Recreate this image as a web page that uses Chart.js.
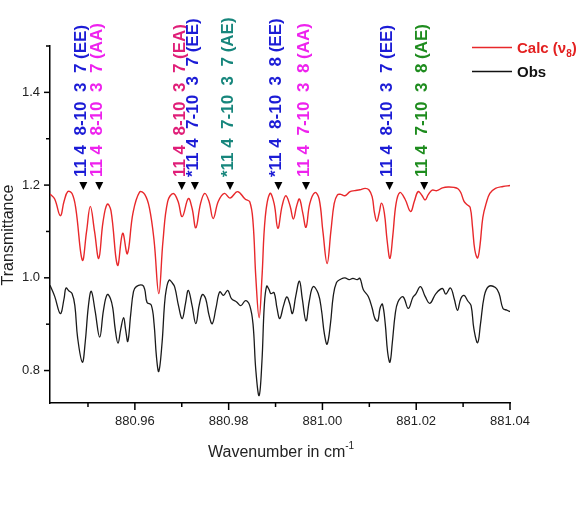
<!DOCTYPE html>
<html><head><meta charset="utf-8">
<script src="https://cdn.jsdelivr.net/npm/chart.js@4.4.1/dist/chart.umd.min.js"></script>
<style>html,body{margin:0;padding:0;background:#fff;}</style>
</head><body>
<canvas id="c" width="580" height="517" style="width:580px;height:517px;display:block"></canvas>
<script>
const calcWavenumber = [880.9419, 880.9429, 880.9441, 880.9449, 880.9457, 880.9466, 880.9474, 880.9488, 880.9497, 880.9505, 880.9514, 880.9523, 880.9532, 880.9541, 880.9549, 880.9563, 880.9574, 880.9584, 880.9596, 880.9610, 880.9621, 880.9631, 880.9641, 880.9651, 880.9660, 880.9670, 880.9682, 880.9692, 880.9701, 880.9714, 880.9722, 880.9730, 880.9740, 880.9749, 880.9758, 880.9767, 880.9778, 880.9791, 880.9803, 880.9819, 880.9835, 880.9845, 880.9852, 880.9858, 880.9865, 880.9871, 880.9878, 880.9888, 880.9897, 880.9905, 880.9914, 880.9922, 880.9931, 880.9938, 880.9945, 880.9951, 880.9958, 880.9965, 880.9973, 880.9984, 880.9993, 881.0001, 881.0010, 881.0018, 881.0025, 881.0032, 881.0039, 881.0048, 881.0059, 881.0069, 881.0080, 881.0091, 881.0099, 881.0106, 881.0111, 881.0116, 881.0121, 881.0126, 881.0132, 881.0138, 881.0144, 881.0150, 881.0157, 881.0165, 881.0176, 881.0188, 881.0196, 881.0204, 881.0212, 881.0219, 881.0226, 881.0234, 881.0244, 881.0256, 881.0268, 881.0281, 881.0289, 881.0295, 881.0302, 881.0308, 881.0315, 881.0320, 881.0325, 881.0331, 881.0336, 881.0342, 881.0349, 881.0357, 881.0369, 881.0385, 881.0400];
const calcTransmittance = [1.181, 1.170, 1.134, 1.165, 1.186, 1.182, 1.150, 1.038, 1.100, 1.154, 1.100, 1.042, 1.120, 1.159, 1.145, 1.027, 1.096, 1.052, 1.140, 1.185, 1.180, 1.151, 1.080, 0.966, 1.080, 1.165, 1.182, 1.165, 1.132, 1.171, 1.150, 1.108, 1.160, 1.182, 1.165, 1.128, 1.165, 1.182, 1.172, 1.186, 1.170, 1.164, 1.120, 1.000, 0.914, 1.000, 1.130, 1.182, 1.160, 1.107, 1.155, 1.177, 1.155, 1.127, 1.155, 1.170, 1.140, 1.109, 1.160, 1.184, 1.170, 1.100, 1.031, 1.100, 1.160, 1.179, 1.180, 1.177, 1.186, 1.188, 1.190, 1.193, 1.190, 1.175, 1.140, 1.122, 1.140, 1.161, 1.140, 1.080, 1.042, 1.090, 1.160, 1.184, 1.170, 1.143, 1.165, 1.186, 1.178, 1.168, 1.180, 1.189, 1.188, 1.194, 1.196, 1.195, 1.192, 1.184, 1.165, 1.158, 1.152, 1.110, 1.060, 1.043, 1.070, 1.130, 1.160, 1.182, 1.193, 1.197, 1.199];
const obsWavenumber = [880.9419, 880.9429, 880.9441, 880.9449, 880.9453, 880.9459, 880.9466, 880.9472, 880.9478, 880.9488, 880.9494, 880.9501, 880.9507, 880.9515, 880.9525, 880.9533, 880.9541, 880.9548, 880.9553, 880.9558, 880.9564, 880.9570, 880.9576, 880.9580, 880.9585, 880.9591, 880.9597, 880.9603, 880.9616, 880.9621, 880.9626, 880.9635, 880.9641, 880.9646, 880.9651, 880.9658, 880.9663, 880.9667, 880.9673, 880.9679, 880.9685, 880.9693, 880.9701, 880.9708, 880.9714, 880.9722, 880.9730, 880.9737, 880.9744, 880.9751, 880.9758, 880.9765, 880.9773, 880.9781, 880.9789, 880.9798, 880.9806, 880.9817, 880.9826, 880.9836, 880.9845, 880.9852, 880.9858, 880.9865, 880.9871, 880.9876, 880.9881, 880.9886, 880.9890, 880.9897, 880.9903, 880.9909, 880.9917, 880.9924, 880.9930, 880.9936, 880.9943, 880.9951, 880.9957, 880.9965, 880.9972, 880.9980, 880.9991, 880.9998, 881.0004, 881.0010, 881.0017, 881.0023, 881.0030, 881.0039, 881.0048, 881.0057, 881.0065, 881.0074, 881.0080, 881.0087, 881.0098, 881.0106, 881.0112, 881.0118, 881.0123, 881.0128, 881.0134, 881.0139, 881.0144, 881.0149, 881.0155, 881.0161, 881.0172, 881.0183, 881.0193, 881.0199, 881.0209, 881.0219, 881.0229, 881.0242, 881.0256, 881.0263, 881.0273, 881.0281, 881.0288, 881.0295, 881.0302, 881.0310, 881.0317, 881.0323, 881.0331, 881.0337, 881.0345, 881.0354, 881.0369, 881.0377, 881.0385, 881.0394, 881.0400];
const obsTransmittance = [0.984, 0.960, 0.923, 0.955, 0.978, 0.972, 0.966, 0.940, 0.870, 0.818, 0.860, 0.940, 0.971, 0.930, 0.872, 0.930, 0.964, 0.955, 0.934, 0.890, 0.859, 0.890, 0.914, 0.890, 0.863, 0.920, 0.970, 0.981, 0.984, 0.975, 0.947, 0.941, 0.900, 0.830, 0.798, 0.860, 0.940, 0.975, 0.995, 0.990, 0.980, 0.940, 0.912, 0.945, 0.973, 0.940, 0.901, 0.940, 0.964, 0.955, 0.920, 0.901, 0.935, 0.970, 0.962, 0.973, 0.955, 0.948, 0.940, 0.951, 0.940, 0.900, 0.800, 0.746, 0.820, 0.940, 0.982, 0.975, 0.966, 0.968, 0.935, 0.912, 0.940, 0.959, 0.945, 0.923, 0.960, 0.993, 0.955, 0.907, 0.950, 0.981, 0.966, 0.930, 0.880, 0.857, 0.900, 0.960, 0.990, 0.997, 1.000, 0.996, 0.999, 0.996, 0.999, 0.975, 0.959, 0.935, 0.912, 0.907, 0.935, 0.943, 0.900, 0.840, 0.818, 0.860, 0.920, 0.948, 0.959, 0.934, 0.958, 0.965, 0.981, 0.960, 0.945, 0.966, 0.977, 0.965, 0.978, 0.955, 0.930, 0.955, 0.962, 0.950, 0.940, 0.890, 0.860, 0.900, 0.960, 0.981, 0.979, 0.965, 0.934, 0.930, 0.927];

const xMajorTicks = [880.96, 880.98, 881.00, 881.02, 881.04];
const xMinorTicks = [880.95, 880.97, 880.99, 881.01, 881.03];
const yMajorTicks = [0.8, 1.0, 1.2, 1.4];
const yMinorTicks = [0.9, 1.1, 1.3, 1.5];

const annotationWavenumber = [880.9490, 880.9524, 880.9700, 880.9728, 880.9803, 880.9906, 880.9965, 881.0143, 881.0217];
const annotationLabels = ["11 4  8-10  3  7 (EE)", "11 4  8-10  3  7 (AA)", "11 4  8-10  3  7 (EA)", "*11 4  7-10  3  7 (EE)", "*11 4  7-10  3  7 (AE)", "*11 4  8-10  3  8 (EE)", "11 4  7-10  3  8 (AA)", "11 4  8-10  3  7 (EE)", "11 4  7-10  3  8 (AE)"];
const annotationColors = ["#1c1cd6", "#ee22ee", "#e01e78", "#1c1cd6", "#17867c", "#1c1cd6", "#ee22ee", "#1c1cd6", "#1e8c1e"];
const seriesNames = ["Calc (ν", "Obs"];

const isIn = (arr, v) => arr.some(t => Math.abs(t - v) < 1e-6);

const overlay = {
  id: 'overlay',
  afterDraw(chart) {
    const ctx = chart.ctx, xs = chart.scales.x, ys = chart.scales.y, a = chart.chartArea;
    ctx.save();
    ctx.strokeStyle = '#000';
    ctx.lineWidth = 1.5;
    const seg = (x1, y1, x2, y2) => { ctx.beginPath(); ctx.moveTo(x1, y1); ctx.lineTo(x2, y2); ctx.stroke(); };
    xMajorTicks.forEach(v => { const p = xs.getPixelForValue(v); seg(p, a.bottom, p, a.bottom + 7); });
    xMinorTicks.forEach(v => { const p = xs.getPixelForValue(v); seg(p, a.bottom, p, a.bottom + 4); });
    yMajorTicks.forEach(v => { const p = ys.getPixelForValue(v); seg(a.left - 6, p, a.left, p); });
    yMinorTicks.forEach(v => { const p = ys.getPixelForValue(v); seg(a.left - 4, p, a.left, p); });

    // annotations
    const yTri = ys.getPixelForValue(1.2);
    annotationWavenumber.forEach((w, i) => {
      const px = xs.getPixelForValue(w);
      ctx.fillStyle = '#000';
      ctx.beginPath();
      ctx.moveTo(px - 4, yTri - 3);
      ctx.lineTo(px + 4, yTri - 3);
      ctx.lineTo(px, yTri + 5);
      ctx.closePath();
      ctx.fill();
      ctx.save();
      ctx.translate(px + 3, yTri - 8);
      ctx.rotate(-Math.PI / 2);
      ctx.font = 'bold 17px "Liberation Sans", Arial, sans-serif';
      ctx.fillStyle = annotationColors[i];
      ctx.textAlign = 'left';
      ctx.textBaseline = 'alphabetic';
      ctx.fillText(annotationLabels[i], 0, 0);
      ctx.restore();
    });

    // legend
    ctx.lineWidth = 1.5;
    ctx.strokeStyle = '#e8282b';
    seg(472, 47.5, 512, 47.5);
    ctx.strokeStyle = '#111';
    seg(472, 71.5, 512, 71.5);
    ctx.font = 'bold 15px "Liberation Sans", Arial, sans-serif';
    ctx.textBaseline = 'alphabetic';
    ctx.textAlign = 'left';
    ctx.fillStyle = '#e32020';
    ctx.fillText(seriesNames[0], 517, 53);
    let w = ctx.measureText(seriesNames[0]).width;
    ctx.font = 'bold 10px "Liberation Sans", Arial, sans-serif';
    ctx.fillText('8', 517 + w, 57);
    let w2 = ctx.measureText('8').width;
    ctx.font = 'bold 15px "Liberation Sans", Arial, sans-serif';
    ctx.fillText(')', 517 + w + w2, 53);
    ctx.fillStyle = '#111';
    ctx.fillText(seriesNames[1], 517, 77);

    // axis titles
    ctx.fillStyle = '#222';
    ctx.font = '16px "Liberation Sans", Arial, sans-serif';
    ctx.textAlign = 'left';
    const xt = 'Wavenumber in cm';
    const xtw = ctx.measureText(xt).width;
    const x0 = 208;
    ctx.fillText(xt, x0, 457);
    ctx.font = '10px "Liberation Sans", Arial, sans-serif';
    ctx.fillText('-1', x0 + xtw, 449);
    ctx.save();
    ctx.translate(12.5, 235);
    ctx.rotate(-Math.PI / 2);
    ctx.font = '16px "Liberation Sans", Arial, sans-serif';
    ctx.textAlign = 'center';
    ctx.fillStyle = '#222';
    ctx.fillText('Transmittance', 0, 0);
    ctx.restore();
    ctx.restore();
  }
};

new Chart(document.getElementById('c'), {
  type: 'line',
  data: {
    datasets: [
      {
        label: 'Calc',
        data: calcWavenumber.map((x, i) => ({ x, y: calcTransmittance[i] })),
        borderColor: '#e8282b', borderWidth: 1.4, pointRadius: 0,
        tension: 0.4, fill: false
      },
      {
        label: 'Obs',
        data: obsWavenumber.map((x, i) => ({ x, y: obsTransmittance[i] })),
        borderColor: '#1a1a1a', borderWidth: 1.3, pointRadius: 0,
        tension: 0.4, fill: false
      }
    ]
  },
  options: {
    responsive: false,
    animation: false,
    devicePixelRatio: 1,
    layout: { padding: { left: 0, right: 70, top: 46, bottom: 0 } },
    plugins: { legend: { display: false }, tooltip: { enabled: false } },
    scales: {
      x: {
        type: 'linear', min: 880.9419, max: 881.04,
        grid: { display: false, drawTicks: false, tickLength: 0 },
        border: { display: true, color: '#000', width: 1.5 },
        ticks: {
          stepSize: 0.01, includeBounds: false, autoSkip: false, maxRotation: 0,
          padding: 11, color: '#222', font: { family: '"Liberation Sans", Arial', size: 13 },
          callback: v => isIn(xMajorTicks, v) ? v.toFixed(2) : ''
        },
        afterFit: s => { s.height = 114; }
      },
      y: {
        type: 'linear', min: 0.73, max: 1.5,
        grid: { display: false, drawTicks: false, tickLength: 0 },
        border: { display: true, color: '#000', width: 1.5 },
        ticks: {
          stepSize: 0.1, includeBounds: false, autoSkip: false,
          padding: 10, color: '#222', font: { family: '"Liberation Sans", Arial', size: 13 },
          callback: v => isIn(yMajorTicks, v) ? v.toFixed(1) : ''
        },
        afterFit: s => { s.width = 50; }
      }
    }
  },
  plugins: [overlay]
});
</script>
</body></html>
